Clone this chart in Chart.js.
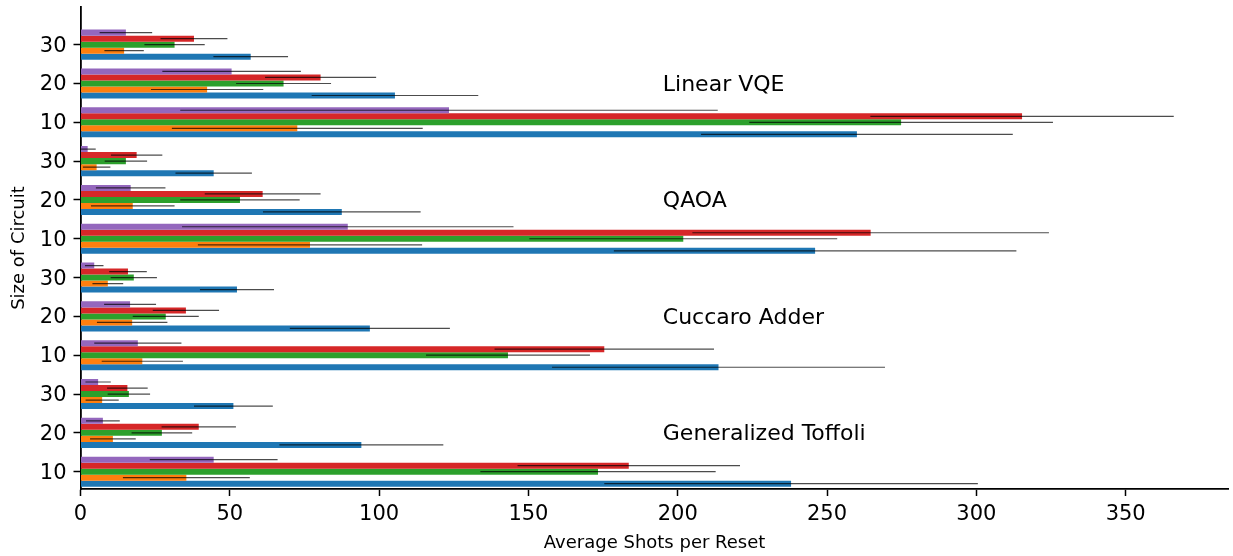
<!DOCTYPE html>
<html>
<head>
<meta charset="utf-8">
<script src="https://cdn.jsdelivr.net/npm/chart.js@4.4.1/dist/chart.umd.min.js"></script>
<style>
  html, body { margin: 0; padding: 0; background: #fff; }
  #wrap { width: 1233px; height: 556px; }
</style>
</head>
<body>
<div id="wrap"><canvas id="c" width="1233" height="556"></canvas></div>
<script>
// ---- Data (bottom-to-top order of rows) ----
const groups = ['Generalized Toffoli', 'Cuccaro Adder', 'QAOA', 'Linear VQE'];
const sizes = ['10', '20', '30'];
const xTicks = [0, 50, 100, 150, 200, 250, 300, 350];

const blue      = [237.95, 94.05, 51.2, 213.65, 96.9, 52.4, 246.0, 87.5, 44.6, 260.0, 105.3, 57.0];
const blueErr   = [62.55, 27.45, 13.2, 55.75, 26.8, 12.4, 67.4, 26.4, 12.8, 52.2, 27.9, 12.5];
const orange    = [35.45, 10.85, 7.25, 20.7, 17.3, 9.15, 76.85, 17.5, 5.4, 72.6, 42.4, 14.6];
const orangeErr = [21.25, 7.65, 5.55, 13.6, 11.8, 5.15, 37.55, 14.0, 4.6, 42.0, 18.8, 6.6];
const green     = [173.3, 27.25, 16.2, 143.15, 28.55, 17.85, 201.85, 53.4, 15.2, 274.8, 68.0, 31.5];
const greenErr  = [39.4, 10.15, 7.1, 27.45, 11.05, 7.75, 51.55, 20.0, 7.1, 50.85, 15.9, 10.1];
const red       = [183.6, 39.6, 15.7, 175.4, 35.3, 15.9, 264.6, 61.0, 18.8, 315.3, 80.4, 38.0];
const redErr    = [37.25, 12.45, 6.8, 36.75, 11.1, 6.3, 59.7, 19.4, 8.6, 50.8, 18.6, 11.2];
const purple    = [44.6, 7.5, 5.9, 19.2, 16.6, 4.6, 89.5, 16.8, 2.4, 123.4, 50.6, 15.2];
const purpleErr = [21.4, 5.65, 4.25, 14.6, 8.7, 3.1, 55.5, 11.65, 2.7, 90.0, 23.2, 8.8];

// ---- Build ----
const rowLabels = [];
groups.forEach(g => sizes.forEach(s => rowLabels.push(s)));
const rowIdx = rowLabels.map((_, i) => i);

const series = [
  { name: 'blue',   vals: blue,   err: blueErr,   color: '#1f77b4' },
  { name: 'orange', vals: orange, err: orangeErr, color: '#ff7f0e' },
  { name: 'green',  vals: green,  err: greenErr,  color: '#2ca02c' },
  { name: 'red',    vals: red,    err: redErr,    color: '#d62728' },
  { name: 'purple', vals: purple, err: purpleErr, color: '#9467bd' }
];
// Chart.js puts dataset 0 at the top of each group; reverse so blue is at the bottom
const datasets = series.slice().reverse().map(s => ({
  label: s.name,
  data: s.vals.map((v, i) => ({ x: v, y: rowIdx[i] })),
  errors: s.err,
  backgroundColor: s.color,
  borderWidth: 0,
  categoryPercentage: 0.775,
  barPercentage: 1.0
}));

const FONT = "'DejaVu Sans', 'Liberation Sans', sans-serif";

const errorBars = {
  id: 'errorBars',
  afterDatasetsDraw(chart) {
    const { ctx, chartArea } = chart;
    const xs = chart.scales.x;
    ctx.save();
    ctx.beginPath();
    ctx.rect(chartArea.left, chartArea.top, chartArea.right - chartArea.left, chartArea.bottom - chartArea.top);
    ctx.clip();
    ctx.strokeStyle = 'rgba(0,0,0,0.7)';
    ctx.lineWidth = 1.2;
    chart.data.datasets.forEach((ds, di) => {
      const meta = chart.getDatasetMeta(di);
      meta.data.forEach((bar, j) => {
        const v = ds.data[j].x, e = ds.errors[j];
        const x1 = xs.getPixelForValue(v - e), x2 = xs.getPixelForValue(v + e);
        ctx.beginPath();
        ctx.moveTo(x1, bar.y);
        ctx.lineTo(x2, bar.y);
        ctx.stroke();
      });
    });
    ctx.restore();
  }
};

const groupLabels = {
  id: 'groupLabels',
  afterDraw(chart) {
    const { ctx } = chart;
    const xs = chart.scales.x, ys = chart.scales.y;
    ctx.save();
    ctx.fillStyle = '#000';
    ctx.font = "22px " + FONT;
    ctx.textAlign = 'left';
    ctx.textBaseline = 'middle';
    groups.forEach((g, gi) => {
      ctx.fillText(g, xs.getPixelForValue(195), ys.getPixelForValue(gi * 3 + 1) + 1.5);
    });
    ctx.restore();
  }
};

Chart.defaults.color = '#000';
Chart.defaults.font.family = FONT;

new Chart(document.getElementById('c'), {
  type: 'bar',
  data: { datasets },
  options: {
    indexAxis: 'y',
    responsive: false,
    animation: false,
    devicePixelRatio: 1,
    layout: { padding: { top: 7, right: 4.3, left: 0, bottom: 0 } },
    plugins: { legend: { display: false }, tooltip: { enabled: false } },
    scales: {
      x: {
        type: 'linear',
        min: 0,
        max: 384.5,
        offset: false,
        afterBuildTicks(scale) { scale.ticks = xTicks.map(v => ({ value: v })); },
        afterFit(scale) { scale.height = 67; scale.paddingLeft = 0; scale.paddingRight = 0; },
        grid: { display: true, offset: false, drawOnChartArea: false, drawTicks: true, tickLength: 7, tickWidth: 1.5, tickColor: '#000' },
        border: { display: true, color: '#000', width: 1.8 },
        ticks: { font: { size: 21 }, color: '#000', padding: 6, maxRotation: 0 },
        title: { display: true, text: 'Average Shots per Reset', font: { size: 18 }, color: '#000', padding: { top: 0, bottom: 2 } }
      },
      y: {
        type: 'linear',
        min: -0.446,
        max: 11.97,
        offset: false,
        afterBuildTicks(scale) { scale.ticks = rowIdx.map(v => ({ value: v })); },
        afterFit(scale) { scale.width = 80.5; scale.paddingTop = 0; scale.paddingBottom = 0; },
        grid: { display: true, offset: false, drawOnChartArea: false, drawTicks: true, tickLength: 7, tickWidth: 1.5, tickColor: '#000' },
        border: { display: true, color: '#000', width: 1.8 },
        ticks: { font: { size: 21 }, color: '#000', padding: 7, labelOffset: 1.5, callback: (v) => rowLabels[v] },
        title: { display: true, text: 'Size of Circuit', font: { size: 18 }, color: '#000', padding: { top: 9, bottom: 0 } }
      }
    }
  },
  plugins: [errorBars, groupLabels]
});
</script>
</body>
</html>
